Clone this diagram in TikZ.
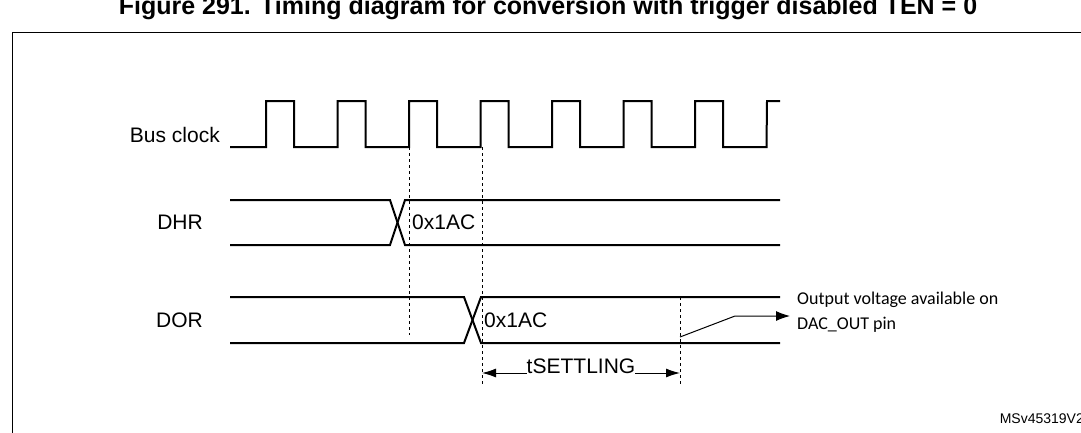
\documentclass[tikz,border=0pt]{standalone}
\usepackage{fontspec}
\usetikzlibrary{arrows.meta}
\setmainfont{Liberation Sans}
\newfontfamily\calib{Carlito}
\begin{document}
\begin{tikzpicture}[x=1pt,y=-1pt,
  sig/.style={line width=2pt},
  dsh/.style={dashed,line width=0.8pt},
  lbl/.style={font=\fontsize{21}{24}\selectfont,inner sep=0pt}]
\useasboundingbox (0,0) rectangle (1081,432);
\begin{scope}
\clip (0,0) rectangle (1081,432);
\node[font=\bfseries\fontsize{25}{28}\selectfont,anchor=base] (title) at (548,14) {Figure 291. Timing diagram for conversion with trigger disabled TEN = 0};
\draw[line width=0.9pt] (12,440) -- (12,32) -- (1090,32);
% clock
\draw[sig] (230,147) -- (266,147)
  \foreach \k in {0,...,6} { -- ({266+71.5*\k},101) -- ({294+71.5*\k},101) -- ({294+71.5*\k},147) -- ({337.5+71.5*\k},147) }
  -- (767,101) -- (780,101);
\node[lbl,anchor=east] (bc) at (220,135) {Bus clock};
% DHR
\draw[sig] (230,200) -- (390,200) -- (405,245) -- (780,245);
\draw[sig] (230,245) -- (390,245) -- (405,200) -- (780,200);
\node[lbl,anchor=east] (dhr) at (203,222) {DHR};
\node[lbl,anchor=west] (v1) at (412,222) {0x1AC};
% DOR
\draw[sig] (230,297) -- (464,297) -- (481,343) -- (780,343);
\draw[sig] (230,343) -- (464,343) -- (481,297) -- (780,297);
\node[lbl,anchor=east] (dor) at (203,320) {DOR};
\node[lbl,anchor=west] (v2) at (484,320) {0x1AC};
% dashed
\coordinate (d1a) at (409,147); \coordinate (d1b) at (409,335);
\coordinate (d2a) at (482,147); \coordinate (d2b) at (482,386);
\coordinate (d3a) at (680,297); \coordinate (d3b) at (680,386);
\draw[dsh] (d1a) -- (d1b);
\draw[dsh] (d2a) -- (d2b);
\draw[dsh] (d3a) -- (d3b);
% tsettling
\node[lbl] (ts) at (581,366) {tSETTLING};
\coordinate (tsl) at (482,373); \coordinate (tsr) at (680,373);
\draw[line width=1pt,-{Latex[length=14pt,width=9pt]}] (ts.west|-tsl) -- (tsl);
\draw[line width=1pt,-{Latex[length=14pt,width=9pt]}] (ts.east|-tsr) -- (tsr);
% output
\node[font=\calib\fontsize{18}{25}\selectfont,anchor=north west,align=left,inner sep=0pt] (out) at (797,292) {Output voltage available on\\DAC\_OUT pin};
\coordinate (o1) at (680,337); \coordinate (o2) at (735,316);
\draw[line width=1pt,-{Latex[length=14pt,width=10pt]}] (o1) -- (o2) -- (790,316);
\node[font=\fontsize{14}{16}\selectfont,anchor=base east,inner sep=0pt] (ms) at (1084,423) {MSv45319V2};
\end{scope}
\end{tikzpicture}
\end{document}
